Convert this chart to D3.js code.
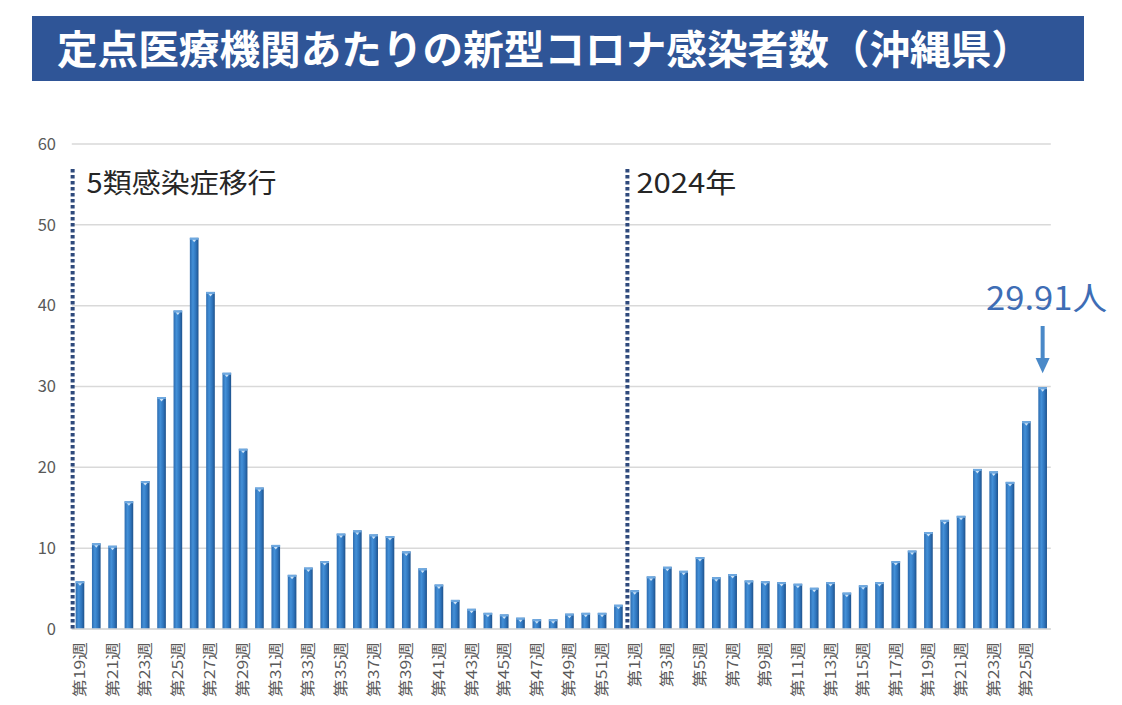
<!DOCTYPE html>
<html>
<head>
<meta charset="utf-8">
<script src="https://cdn.jsdelivr.net/npm/d3@7/dist/d3.min.js"></script>
<style>
  html, body { margin: 0; padding: 0; background: #ffffff; }
  svg { display: block; }
</style>
</head>
<body>
<svg id="chart" width="1122" height="705"></svg>
<script>
// ---------- DATA ----------
const title = "定点医療機関あたりの新型コロナ感染者数（沖縄県）";
const weeks2023 = [19,20,21,22,23,24,25,26,27,28,29,30,31,32,33,34,35,36,37,38,39,40,41,42,43,44,45,46,47,48,49,50,51,52];
const values2023 = [5.9,10.6,10.3,15.8,18.3,28.7,39.4,48.4,41.7,31.7,22.3,17.5,10.4,6.7,7.6,8.4,11.8,12.2,11.7,11.5,9.6,7.5,5.5,3.6,2.5,2.0,1.8,1.4,1.2,1.2,1.9,2.0,2.0,3.0];
const weeks2024 = [1,2,3,4,5,6,7,8,9,10,11,12,13,14,15,16,17,18,19,20,21,22,23,24,25,26];
const values2024 = [4.8,6.5,7.7,7.2,8.9,6.4,6.8,6.0,5.9,5.8,5.6,5.1,5.8,4.5,5.4,5.8,8.4,9.7,12.0,13.5,14.0,19.8,19.5,18.2,25.7,29.91];
const yTicks = [0,10,20,30,40,50,60];
const markerLabels = ["5類感染症移行", "2024年"];
const latestLabel = "29.91人";

// ---------- BUILD ----------
const rows = [
  ...weeks2023.map((w, i) => ({ key: "2023-" + w, week: w, value: values2023[i] })),
  ...weeks2024.map((w, i) => ({ key: "2024-" + w, week: w, value: values2024[i] }))
];

const svg = d3.select("#chart");
const FONT = "'Noto Sans CJK JP', 'Noto Sans', sans-serif";

const plotL = 71.8, plotR = 1050.8, plotT = 144, plotB = 629;

const x = d3.scaleBand()
  .domain(rows.map(d => d.key))
  .range([plotL, plotR])
  .paddingInner(0.47)
  .paddingOuter(0.235);

const y = d3.scaleLinear().domain([0, 60]).range([plotB, plotT]);

// defs: bar gradient
const defs = svg.append("defs");
const grad = defs.append("linearGradient").attr("id", "barGrad")
  .attr("x1", "0%").attr("x2", "100%").attr("y1", "0%").attr("y2", "0%");
grad.append("stop").attr("offset", "0%").attr("stop-color", "#2d6cb0");
grad.append("stop").attr("offset", "35%").attr("stop-color", "#4390d8");
grad.append("stop").attr("offset", "70%").attr("stop-color", "#2e74bc");
grad.append("stop").attr("offset", "100%").attr("stop-color", "#1f528b");

// Title banner
svg.append("rect")
  .attr("x", 32).attr("y", 16).attr("width", 1052).attr("height", 65)
  .attr("fill", "#2f5597");
svg.append("text")
  .attr("x", 57).attr("y", 64)
  .attr("font-family", FONT).attr("font-weight", 700).attr("font-size", 40)
  .attr("fill", "#ffffff")
  .attr("textLength", 975).attr("lengthAdjust", "spacingAndGlyphs")
  .text(title);

// Gridlines
svg.append("g")
  .selectAll("line")
  .data(yTicks)
  .join("line")
  .attr("x1", plotL).attr("x2", plotR)
  .attr("y1", d => y(d)).attr("y2", d => y(d))
  .attr("stroke", "#d9d9d9").attr("stroke-width", 1.5);

// Y axis labels
const yAxis = d3.axisLeft(y).tickValues(yTicks).tickSize(0).tickPadding(0);
const yg = svg.append("g").attr("transform", `translate(56,0)`).call(yAxis);
yg.select(".domain").remove();
yg.selectAll("text")
  .attr("font-family", FONT).attr("font-size", 16.5).attr("fill", "#595959");

// Bars
const bars = svg.append("g").selectAll("g.bar").data(rows).join("g").attr("class", "bar");
bars.append("rect")
  .attr("x", d => x(d.key))
  .attr("y", d => y(d.value))
  .attr("width", x.bandwidth())
  .attr("height", d => y(0) - y(d.value))
  .attr("fill", "url(#barGrad)");
bars.append("rect")
  .attr("x", d => x(d.key))
  .attr("y", d => y(d.value))
  .attr("width", x.bandwidth())
  .attr("height", 2)
  .attr("fill", "#6fa9e0");
bars.append("path")
  .attr("d", d => {
    const cx = x(d.key) + x.bandwidth() / 2, ty = y(d.value) + 2;
    return `M${cx - 2},${ty} L${cx + 2},${ty} L${cx},${ty + 2.5} Z`;
  })
  .attr("fill", "#cfe4f7");

// X axis baseline
svg.append("line")
  .attr("x1", plotL).attr("x2", plotR)
  .attr("y1", y(0)).attr("y2", y(0))
  .attr("stroke", "#d9d9d9").attr("stroke-width", 1.5);

// X labels (odd weeks), rotated
const xAxis = d3.axisBottom(x)
  .tickValues(rows.filter(d => d.week % 2 === 1).map(d => d.key))
  .tickFormat(k => "第" + rows.find(r => r.key === k).week + "週")
  .tickSize(0);
const xg = svg.append("g").attr("transform", `translate(0,${y(0)})`).call(xAxis);
xg.select(".domain").remove();
xg.selectAll("text")
  .attr("font-family", FONT).attr("font-size", 14.5).attr("fill", "#595959")
  .attr("text-anchor", "end")
  .attr("dy", null).attr("y", 0).attr("x", 0)
  .attr("transform", "translate(5,13) rotate(-90) scale(1.22,1)");

// Dotted marker lines
const markerKeys = [rows[0].key, rows[weeks2023.length].key];
const markerX = markerKeys.map(k => x(k) - 3);
svg.append("g").selectAll("line").data(markerX).join("line")
  .attr("x1", d => d).attr("x2", d => d)
  .attr("y1", 169).attr("y2", y(0))
  .attr("stroke", "#2f4a7c").attr("stroke-width", 4)
  .attr("stroke-dasharray", "3.5,2.5");

const markerWidths = [190, 100];
svg.append("g").selectAll("text").data(markerLabels).join("text")
  .attr("x", (d, i) => markerX[i] + 14 - (i === 1 ? 5 : 0))
  .attr("y", 193)
  .attr("font-family", FONT).attr("font-size", 27).attr("fill", "#262626")
  .attr("textLength", (d, i) => markerWidths[i]).attr("lengthAdjust", "spacingAndGlyphs")
  .text(d => d);

// Latest value annotation
const lastRow = rows[rows.length - 1];
const ax = x(lastRow.key) + x.bandwidth() / 2;
svg.append("text")
  .attr("x", 986).attr("y", 310)
  .attr("font-family", FONT).attr("font-size", 32).attr("fill", "#3e6db5")
  .attr("textLength", 121).attr("lengthAdjust", "spacingAndGlyphs")
  .text(latestLabel);
svg.append("line")
  .attr("x1", ax).attr("x2", ax)
  .attr("y1", 326).attr("y2", 360)
  .attr("stroke", "#4a89c8").attr("stroke-width", 4);
svg.append("path")
  .attr("d", `M${ax - 7},${358} L${ax + 7},${358} L${ax},${y(lastRow.value) - 14} Z`)
  .attr("fill", "#4a89c8");
</script>
</body>
</html>
